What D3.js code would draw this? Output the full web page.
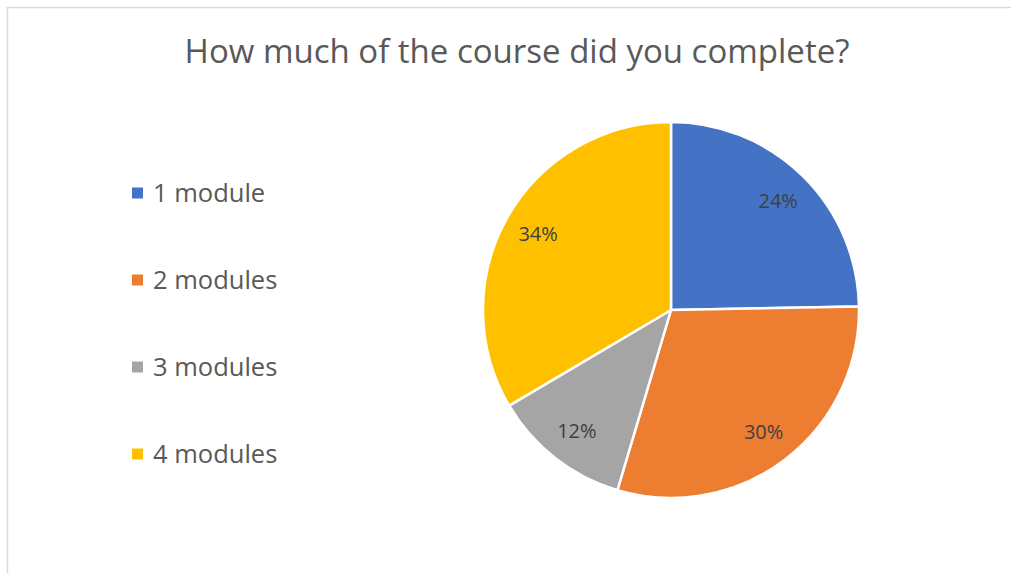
<!DOCTYPE html>
<html>
<head>
<meta charset="utf-8">
<script src="https://cdn.jsdelivr.net/npm/d3@7"></script>
<style>
  body { margin: 0; background: #fff; }
  text { font-family: "Open Sans", "Liberation Sans", sans-serif; }
</style>
</head>
<body>
<svg id="chart" width="1011" height="573"></svg>
<script>
// data
var categories = ["1 module", "2 modules", "3 modules", "4 modules"];
// slice sizes; labels as printed on it
var shares = [24.7, 29.9, 11.9, 33.5];
var labels = ["24%", "30%", "12%", "34%"];
var colors = ["#4472c4", "#ed7d31", "#a5a5a5", "#ffc000"];
var title = "How much of the course did you complete?";

var svg = d3.select("#chart"),
    width = +svg.attr("width"),
    height = +svg.attr("height");

// chart border
svg.append("rect")
  .attr("x", 7.5).attr("y", 7.5)
  .attr("width", width + 20).attr("height", height + 20)
  .attr("fill", "#fff")
  .attr("stroke", "#d9d9d9")
  .attr("stroke-width", 1.5);

// title
svg.append("text")
  .attr("x", 517).attr("y", 63)
  .attr("text-anchor", "middle")
  .attr("fill", "#595959")
  .style("font-size", "33px")
  .text(title);

// pie
var cx = 671, cy = 310, radius = 188;
var color = d3.scaleOrdinal().domain(categories).range(colors);

var pie = d3.pie()
  .value(function(d, i) { return shares[i]; })
  .sort(null);

var arc = d3.arc().innerRadius(0).outerRadius(radius);
var labelArc = d3.arc().innerRadius(153).outerRadius(153);

var g = svg.append("g").attr("transform", "translate(" + cx + "," + cy + ")");

var slices = g.selectAll("g.slice")
  .data(pie(categories))
  .enter().append("g")
  .attr("class", "slice");

slices.append("path")
  .attr("d", arc)
  .attr("fill", function(d) { return color(d.data); })
  .attr("stroke", "#fff")
  .attr("stroke-width", 2.5)
  .attr("stroke-linejoin", "round");

slices.append("text")
  .attr("transform", function(d) { return "translate(" + labelArc.centroid(d) + ")"; })
  .attr("text-anchor", "middle")
  .attr("dy", "0.35em")
  .attr("fill", "#404040")
  .style("font-size", "20px")
  .text(function(d) { return labels[d.index]; });

// legend
var legendY = d3.scalePoint().domain(categories).range([193, 454]);

var legend = svg.append("g").selectAll("g")
  .data(categories)
  .enter().append("g")
  .attr("transform", function(d) { return "translate(132," + legendY(d) + ")"; });

legend.append("rect")
  .attr("x", 0).attr("y", -5.5)
  .attr("width", 11).attr("height", 11)
  .attr("fill", function(d) { return color(d); });

legend.append("text")
  .attr("x", 21)
  .attr("dy", "0.35em")
  .attr("fill", "#595959")
  .style("font-size", "25.5px")
  .text(function(d) { return d; });
</script>
</body>
</html>
